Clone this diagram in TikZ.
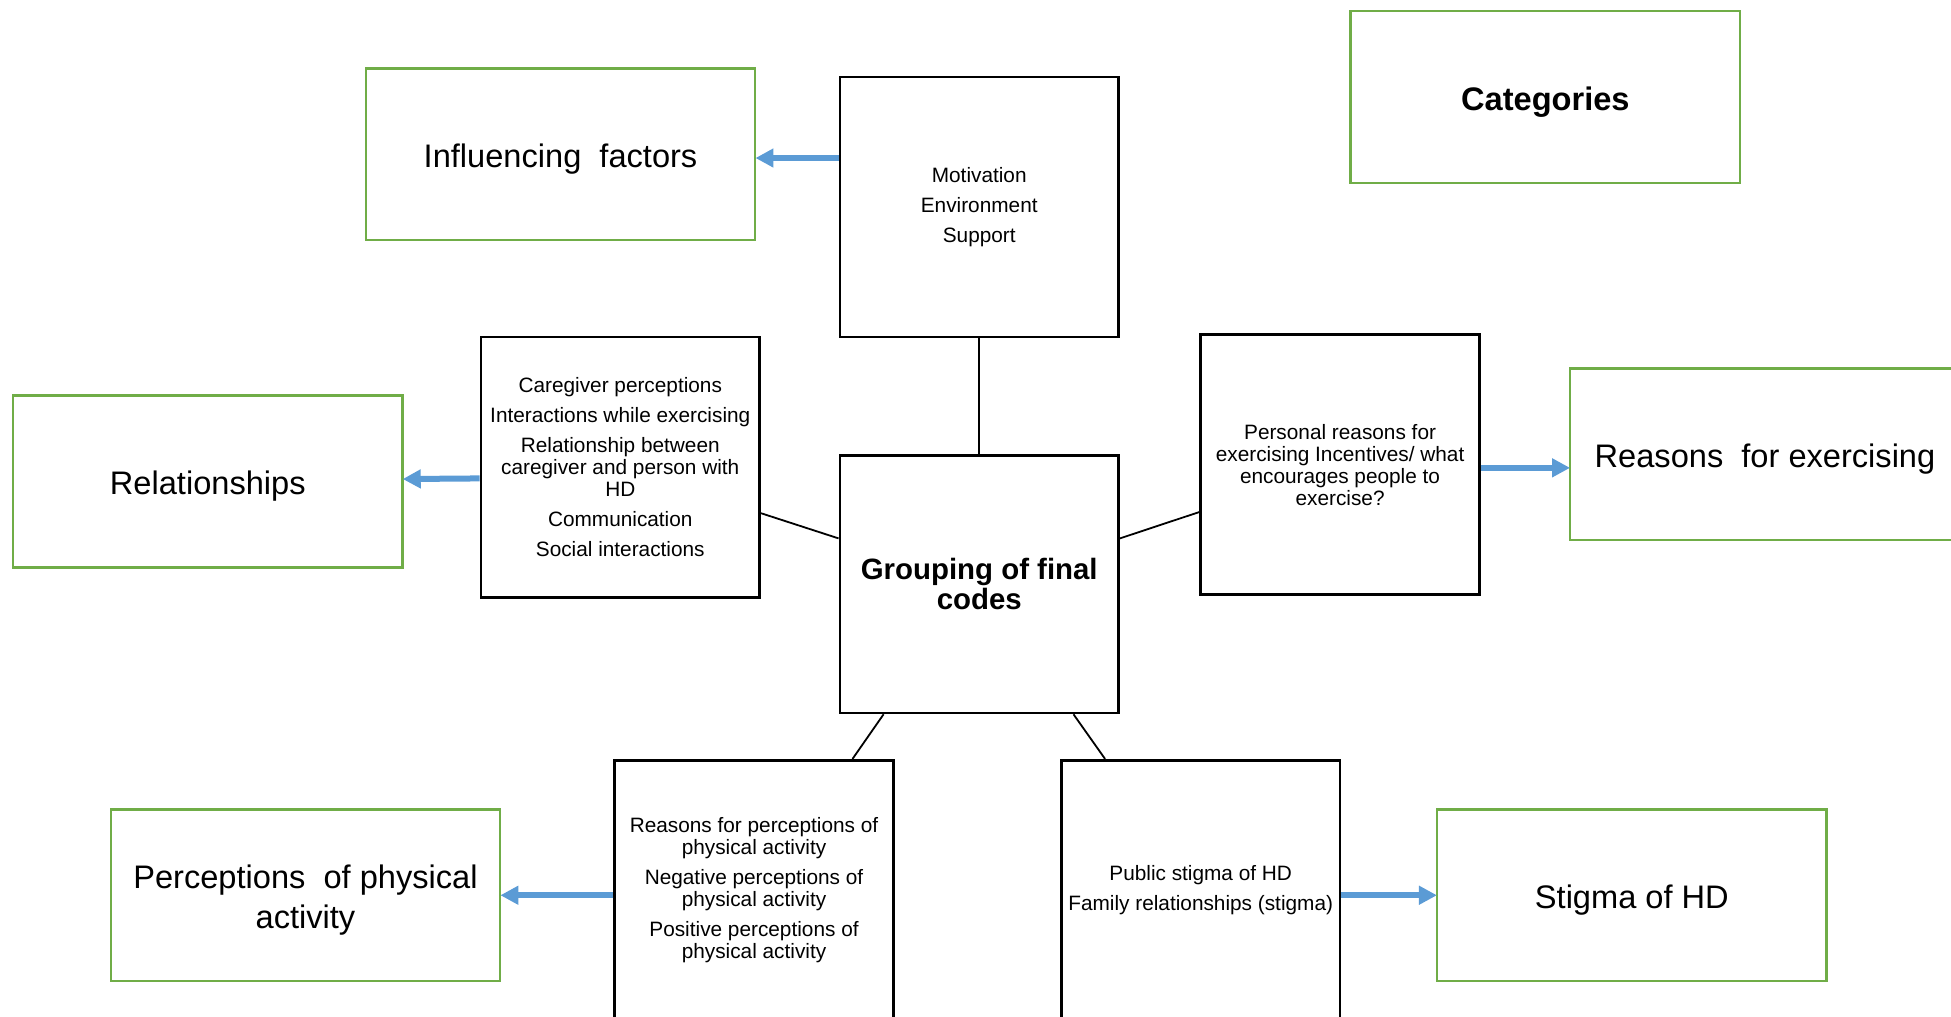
\documentclass[tikz,border=0pt]{standalone}
\usepackage{fontspec}
\setmainfont{Liberation Sans}
\usetikzlibrary{arrows.meta,calc}

\definecolor{catgreen}{HTML}{70AD47}
\definecolor{arrowblue}{HTML}{5B9BD5}

\newdimen\unitpx
\unitpx=0.6222pt

\tikzset{
  codebox/.style={draw=black, line width=1.3pt, fill=white,
    minimum width=224\unitpx, minimum height=209\unitpx, inner sep=1pt,
    align=center, font=\fontsize{10.4pt}{11pt}\selectfont},
  catbox/.style={draw=catgreen, line width=1.2pt, fill=white,
    minimum width=313\unitpx, minimum height=138\unitpx, inner sep=0pt},
  cattext/.style={inner sep=0pt, align=center,
    font=\fontsize{16.3pt}{20pt}\selectfont},
  link/.style={draw=black, line width=0.9pt},
  toCat/.style={draw=arrowblue, line width=3pt,
    -{Triangle[length=9pt,width=9pt]}, shorten >=-0.5pt}
}

\begin{document}
\begin{tikzpicture}[x=\unitpx, y=-\unitpx]
  \useasboundingbox (0,0) rectangle (1568,817);
  \clip (0,0) rectangle (1568,817);

  % category boxes (green) and their titles
  \node[catbox] (cat) at (1242,78) {};
  \node[cattext] (catT) at ($(cat.center)+(0,4)$) {\bfseries Categories};
  \node[catbox] (infl) at (450.5,124) {};
  \node[cattext] (inflT) at ($(infl.center)+(0,4)$) {Influencing\ \ factors};
  \node[catbox] (rel) at (167,387) {};
  \node[cattext] (relT) at ($(rel.center)+(0,4)$) {Relationships};
  \node[catbox] (reas) at (1418.5,365) {};
  \node[cattext] (reasT) at ($(reas.center)+(0,4)$) {Reasons\ \ for exercising};
  \node[catbox] (perc) at (245.5,719.5) {};
  \node[cattext] (percT) at ($(perc.center)+(0,4)$) {Perceptions\ \ of physical\\activity};
  \node[catbox] (stig) at (1311.5,719.5) {};
  \node[cattext] (stigT) at ($(stig.center)+(0,4)$) {Stigma of HD};

  % code boxes (black)
  \node[codebox] (mot) at (787,166.5)
    {Motivation\\[4pt]Environment\\[4pt]Support};
  \node[codebox, font=\bfseries\fontsize{14.7pt}{15pt}\selectfont,
        minimum height=207\unitpx] (grp) at (787,469.5)
    {Grouping of final\\codes};
  \node[codebox] (relc) at (498.5,375.5)
    {Caregiver perceptions\\[4pt]Interactions while exercising\\[4pt]%
     Relationship between\\caregiver and person with\\HD\\[4pt]%
     Communication\\[4pt]Social interactions};
  \node[codebox] (reasc) at (1077,373.5)
    {Personal reasons for\\exercising Incentives/ what\\encourages people to\\exercise?};
  \node[codebox] (percc) at (606,715.5)
    {Reasons for perceptions of\\physical activity\\[4pt]%
     Negative perceptions of\\physical activity\\[4pt]%
     Positive perceptions of\\physical activity};
  \node[codebox] (stigc) at (965,715.5)
    {Public stigma of HD\\[4pt]Family relationships (stigma)};

  % links between the central box and the code boxes
  \draw[link] (mot.south) -- (grp.north);
  \draw[link] ($(relc.north east)!0.675!(relc.south east)$)
           -- ($(grp.north west)!0.324!(grp.south west)$);
  \draw[link] ($(grp.north east)!0.324!(grp.south east)$)
           -- ($(reasc.north west)!0.68!(reasc.south west)$);
  \draw[link] ($(grp.south west)!0.16!(grp.south east)$)
           -- ($(percc.north west)!0.85!(percc.north east)$);
  \draw[link] ($(grp.south west)!0.835!(grp.south east)$)
           -- ($(stigc.north west)!0.16!(stigc.north east)$);

  % arrows from code boxes to categories
  \draw[toCat] ($(mot.west |- infl.east)+(0,3)$) -- ($(infl.east)+(0,3)$);
  \draw[toCat] ($(relc.west)+(0,9)$) -- ($(rel.east)+(0,-2)$);
  \draw[toCat] ($(reasc.east)+(0,2.5)$) -- ($(reas.west)+(0,11)$);
  \draw[toCat] (percc.west |- perc.east) -- (perc.east);
  \draw[toCat] (stigc.east |- stig.west) -- (stig.west);
\end{tikzpicture}
\end{document}
